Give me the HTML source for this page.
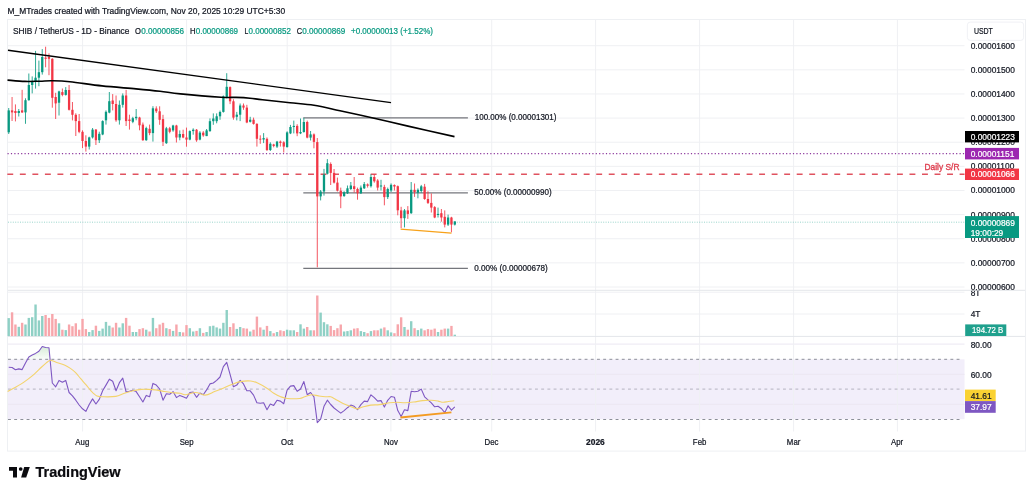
<!DOCTYPE html>
<html><head><meta charset="utf-8"><title>SHIB / TetherUS chart</title>
<style>html,body{margin:0;padding:0;background:#fff;width:1033px;height:494px;overflow:hidden}body{position:relative;font-family:"Liberation Sans", sans-serif}</style>
</head><body>
<svg width="1033" height="494" viewBox="0 0 1033 494" font-family='"Liberation Sans", sans-serif' style="position:absolute;left:0;top:0;will-change:transform"><text x="7.5" y="13.9" font-size="8.3" fill="#131722" stroke="#131722" stroke-width="0.22" textLength="277.6" lengthAdjust="spacingAndGlyphs">M_MTrades created with TradingView.com, Nov 20, 2025 10:29 UTC+5:30</text><rect x="8" y="359.3" width="956.5" height="59.9" fill="#f2eefa"/><line x1="8" x2="964.5" y1="45.7" y2="45.7" stroke="#eff0f3" stroke-width="1"/><line x1="8" x2="964.5" y1="69.83" y2="69.83" stroke="#eff0f3" stroke-width="1"/><line x1="8" x2="964.5" y1="93.96" y2="93.96" stroke="#eff0f3" stroke-width="1"/><line x1="8" x2="964.5" y1="118.09" y2="118.09" stroke="#eff0f3" stroke-width="1"/><line x1="8" x2="964.5" y1="142.22" y2="142.22" stroke="#eff0f3" stroke-width="1"/><line x1="8" x2="964.5" y1="166.35" y2="166.35" stroke="#eff0f3" stroke-width="1"/><line x1="8" x2="964.5" y1="190.48" y2="190.48" stroke="#eff0f3" stroke-width="1"/><line x1="8" x2="964.5" y1="214.61" y2="214.61" stroke="#eff0f3" stroke-width="1"/><line x1="8" x2="964.5" y1="238.74" y2="238.74" stroke="#eff0f3" stroke-width="1"/><line x1="8" x2="964.5" y1="262.87" y2="262.87" stroke="#eff0f3" stroke-width="1"/><line x1="8" x2="964.5" y1="287.0" y2="287.0" stroke="#eff0f3" stroke-width="1"/><line x1="8" x2="964.5" y1="292.2" y2="292.2" stroke="#eff0f3" stroke-width="1"/><line x1="8" x2="964.5" y1="314" y2="314" stroke="#eff0f3" stroke-width="1"/><line x1="8" x2="964.5" y1="344.1" y2="344.1" stroke="#ebe7f2" stroke-width="1"/><line x1="8" x2="964.5" y1="374.3" y2="374.3" stroke="#ebe7f2" stroke-width="1"/><line x1="8" x2="964.5" y1="404.3" y2="404.3" stroke="#ebe7f2" stroke-width="1"/><line x1="82.6" x2="82.6" y1="20" y2="431.5" stroke="#eff0f3" stroke-width="1"/><line x1="186.6" x2="186.6" y1="20" y2="431.5" stroke="#eff0f3" stroke-width="1"/><line x1="287.2" x2="287.2" y1="20" y2="431.5" stroke="#eff0f3" stroke-width="1"/><line x1="390.9" x2="390.9" y1="20" y2="431.5" stroke="#eff0f3" stroke-width="1"/><line x1="491.7" x2="491.7" y1="20" y2="431.5" stroke="#eff0f3" stroke-width="1"/><line x1="595.6" x2="595.6" y1="20" y2="431.5" stroke="#eff0f3" stroke-width="1"/><line x1="699.6" x2="699.6" y1="20" y2="431.5" stroke="#eff0f3" stroke-width="1"/><line x1="793.6" x2="793.6" y1="20" y2="431.5" stroke="#eff0f3" stroke-width="1"/><line x1="897.4" x2="897.4" y1="20" y2="431.5" stroke="#eff0f3" stroke-width="1"/><line x1="8" x2="1025" y1="290.3" y2="290.3" stroke="#e4e6ea" stroke-width="1"/><line x1="8" x2="1025" y1="336.4" y2="336.4" stroke="#e4e6ea" stroke-width="1"/><rect x="7.5" y="19.5" width="1018" height="431.6" fill="none" stroke="#eef0f3" stroke-width="1"/><line x1="8" x2="962.8" y1="359.3" y2="359.3" stroke="#8c8f99" stroke-width="1" stroke-dasharray="2.9 3.3"/><line x1="8" x2="962.8" y1="389.1" y2="389.1" stroke="#b4b3c0" stroke-width="1" stroke-dasharray="2.9 3.3"/><line x1="8" x2="962.8" y1="419.5" y2="419.5" stroke="#8c8f99" stroke-width="1" stroke-dasharray="2.9 3.3"/><line x1="7.5" x2="964.5" y1="153.6" y2="153.6" stroke="#8e3a9e" stroke-width="1.2" stroke-dasharray="1.2 2.2"/><line x1="7.32" x2="964.5" y1="174.2" y2="174.2" stroke="#e0525f" stroke-width="1.6" stroke-dasharray="5.9 6.63"/><line x1="8" x2="964.5" y1="222.2" y2="222.2" stroke="#089981" stroke-width="0.9" stroke-dasharray="1 1.4" opacity="0.45"/><text x="924.5" y="169.6" font-size="8.6" fill="#df3f4f" stroke="#df3f4f" stroke-width="0.35" textLength="35.0" lengthAdjust="spacingAndGlyphs">Daily S/R</text><line x1="303.3" x2="467.9" y1="117.8" y2="117.8" stroke="#74767c" stroke-width="1.15"/><line x1="303.3" x2="467.9" y1="192.9" y2="192.9" stroke="#74767c" stroke-width="1.15"/><line x1="303.3" x2="467.9" y1="268.3" y2="268.3" stroke="#74767c" stroke-width="1.15"/><text x="474.7" y="120.1" font-size="8.3" fill="#131722" stroke="#131722" stroke-width="0.22" textLength="81.8" lengthAdjust="spacingAndGlyphs">100.00% (0.00001301)</text><text x="474.2" y="194.9" font-size="8.3" fill="#131722" stroke="#131722" stroke-width="0.22" textLength="77.4" lengthAdjust="spacingAndGlyphs">50.00% (0.00000990)</text><text x="474.2" y="270.5" font-size="8.3" fill="#131722" stroke="#131722" stroke-width="0.22" textLength="73.6" lengthAdjust="spacingAndGlyphs">0.00% (0.00000678)</text><line x1="8.72" x2="8.72" y1="108.0" y2="134.0" stroke="#089981" stroke-width="0.85"/><rect x="7.57" y="110.4" width="2.3" height="21.90" fill="#089981"/><line x1="12.07" x2="12.07" y1="97.0" y2="121.0" stroke="#f23645" stroke-width="0.85"/><rect x="10.92" y="110.4" width="2.3" height="2.00" fill="#f23645"/><line x1="15.43" x2="15.43" y1="104.4" y2="121.4" stroke="#f23645" stroke-width="0.85"/><rect x="14.28" y="111.0" width="2.3" height="2.00" fill="#f23645"/><line x1="18.78" x2="18.78" y1="109.0" y2="116.5" stroke="#089981" stroke-width="0.85"/><rect x="17.63" y="111.0" width="2.3" height="2.00" fill="#089981"/><line x1="22.13" x2="22.13" y1="89.8" y2="113.0" stroke="#f23645" stroke-width="0.85"/><rect x="20.98" y="110.4" width="2.3" height="2.00" fill="#f23645"/><line x1="25.49" x2="25.49" y1="98.3" y2="123.8" stroke="#089981" stroke-width="0.85"/><rect x="24.34" y="100.2" width="2.3" height="12.20" fill="#089981"/><line x1="28.84" x2="28.84" y1="73.5" y2="100.7" stroke="#089981" stroke-width="0.85"/><rect x="27.69" y="85.0" width="2.3" height="15.20" fill="#089981"/><line x1="32.20" x2="32.20" y1="76.4" y2="93.4" stroke="#089981" stroke-width="0.85"/><rect x="31.05" y="81.9" width="2.3" height="3.10" fill="#089981"/><line x1="35.55" x2="35.55" y1="50.9" y2="88.6" stroke="#089981" stroke-width="0.85"/><rect x="34.40" y="77.7" width="2.3" height="4.20" fill="#089981"/><line x1="38.90" x2="38.90" y1="60.6" y2="86.2" stroke="#089981" stroke-width="0.85"/><rect x="37.75" y="72.2" width="2.3" height="5.50" fill="#089981"/><line x1="42.26" x2="42.26" y1="49.1" y2="74.6" stroke="#089981" stroke-width="0.85"/><rect x="41.11" y="57.0" width="2.3" height="15.20" fill="#089981"/><line x1="45.61" x2="45.61" y1="46.7" y2="67.3" stroke="#f23645" stroke-width="0.85"/><rect x="44.46" y="57.6" width="2.3" height="1.20" fill="#f23645"/><line x1="48.97" x2="48.97" y1="53.4" y2="75.2" stroke="#f23645" stroke-width="0.85"/><rect x="47.82" y="57.0" width="2.3" height="1.80" fill="#f23645"/><line x1="52.32" x2="52.32" y1="58.2" y2="107.7" stroke="#f23645" stroke-width="0.85"/><rect x="51.17" y="58.8" width="2.3" height="39.00" fill="#f23645"/><line x1="55.67" x2="55.67" y1="92.8" y2="119.0" stroke="#f23645" stroke-width="0.85"/><rect x="54.52" y="97.0" width="2.3" height="6.40" fill="#f23645"/><line x1="59.03" x2="59.03" y1="90.7" y2="115.5" stroke="#089981" stroke-width="0.85"/><rect x="57.88" y="91.4" width="2.3" height="11.30" fill="#089981"/><line x1="62.38" x2="62.38" y1="88.5" y2="96.3" stroke="#f23645" stroke-width="0.85"/><rect x="61.23" y="92.1" width="2.3" height="2.80" fill="#f23645"/><line x1="65.74" x2="65.74" y1="87.1" y2="95.6" stroke="#089981" stroke-width="0.85"/><rect x="64.59" y="90.0" width="2.3" height="4.90" fill="#089981"/><line x1="69.09" x2="69.09" y1="85.0" y2="110.5" stroke="#f23645" stroke-width="0.85"/><rect x="67.94" y="90.0" width="2.3" height="19.80" fill="#f23645"/><line x1="72.44" x2="72.44" y1="102.0" y2="120.4" stroke="#f23645" stroke-width="0.85"/><rect x="71.29" y="109.8" width="2.3" height="5.00" fill="#f23645"/><line x1="75.80" x2="75.80" y1="113.3" y2="136.0" stroke="#f23645" stroke-width="0.85"/><rect x="74.65" y="114.8" width="2.3" height="6.30" fill="#f23645"/><line x1="79.15" x2="79.15" y1="114.0" y2="133.2" stroke="#f23645" stroke-width="0.85"/><rect x="78.00" y="121.1" width="2.3" height="10.70" fill="#f23645"/><line x1="82.51" x2="82.51" y1="130.3" y2="148.1" stroke="#f23645" stroke-width="0.85"/><rect x="81.36" y="131.8" width="2.3" height="9.20" fill="#f23645"/><line x1="85.86" x2="85.86" y1="135.3" y2="151.6" stroke="#f23645" stroke-width="0.85"/><rect x="84.71" y="141.0" width="2.3" height="5.60" fill="#f23645"/><line x1="89.21" x2="89.21" y1="136.7" y2="149.5" stroke="#089981" stroke-width="0.85"/><rect x="88.06" y="137.4" width="2.3" height="9.20" fill="#089981"/><line x1="92.57" x2="92.57" y1="128.0" y2="138.5" stroke="#089981" stroke-width="0.85"/><rect x="91.42" y="129.6" width="2.3" height="7.80" fill="#089981"/><line x1="95.92" x2="95.92" y1="129.0" y2="145.0" stroke="#f23645" stroke-width="0.85"/><rect x="94.77" y="129.6" width="2.3" height="10.60" fill="#f23645"/><line x1="99.28" x2="99.28" y1="131.7" y2="143.0" stroke="#089981" stroke-width="0.85"/><rect x="98.13" y="133.8" width="2.3" height="6.40" fill="#089981"/><line x1="102.63" x2="102.63" y1="120.3" y2="135.2" stroke="#089981" stroke-width="0.85"/><rect x="101.48" y="121.1" width="2.3" height="13.40" fill="#089981"/><line x1="105.98" x2="105.98" y1="110.4" y2="124.6" stroke="#089981" stroke-width="0.85"/><rect x="104.83" y="111.8" width="2.3" height="8.50" fill="#089981"/><line x1="109.34" x2="109.34" y1="92.0" y2="113.3" stroke="#089981" stroke-width="0.85"/><rect x="108.19" y="101.2" width="2.3" height="11.40" fill="#089981"/><line x1="112.69" x2="112.69" y1="94.1" y2="110.4" stroke="#f23645" stroke-width="0.85"/><rect x="111.54" y="100.5" width="2.3" height="3.50" fill="#f23645"/><line x1="116.05" x2="116.05" y1="95.5" y2="121.8" stroke="#f23645" stroke-width="0.85"/><rect x="114.90" y="104.0" width="2.3" height="16.30" fill="#f23645"/><line x1="119.40" x2="119.40" y1="100.5" y2="124.6" stroke="#089981" stroke-width="0.85"/><rect x="118.25" y="104.8" width="2.3" height="15.50" fill="#089981"/><line x1="122.75" x2="122.75" y1="93.4" y2="107.6" stroke="#089981" stroke-width="0.85"/><rect x="121.60" y="95.5" width="2.3" height="9.30" fill="#089981"/><line x1="126.11" x2="126.11" y1="89.9" y2="126.0" stroke="#f23645" stroke-width="0.85"/><rect x="124.96" y="95.5" width="2.3" height="25.60" fill="#f23645"/><line x1="129.46" x2="129.46" y1="114.7" y2="129.6" stroke="#f23645" stroke-width="0.85"/><rect x="128.31" y="119.5" width="2.3" height="1.50" fill="#f23645"/><line x1="132.82" x2="132.82" y1="116.8" y2="123.2" stroke="#089981" stroke-width="0.85"/><rect x="131.67" y="118.2" width="2.3" height="3.60" fill="#089981"/><line x1="136.17" x2="136.17" y1="109.0" y2="120.3" stroke="#089981" stroke-width="0.85"/><rect x="135.02" y="116.8" width="2.3" height="1.40" fill="#089981"/><line x1="139.52" x2="139.52" y1="116.8" y2="130.3" stroke="#f23645" stroke-width="0.85"/><rect x="138.37" y="117.5" width="2.3" height="7.80" fill="#f23645"/><line x1="142.88" x2="142.88" y1="122.5" y2="140.9" stroke="#f23645" stroke-width="0.85"/><rect x="141.73" y="124.6" width="2.3" height="15.60" fill="#f23645"/><line x1="146.23" x2="146.23" y1="126.7" y2="140.9" stroke="#089981" stroke-width="0.85"/><rect x="145.08" y="128.1" width="2.3" height="12.10" fill="#089981"/><line x1="149.59" x2="149.59" y1="124.6" y2="135.2" stroke="#f23645" stroke-width="0.85"/><rect x="148.44" y="128.8" width="2.3" height="4.30" fill="#f23645"/><line x1="152.94" x2="152.94" y1="106.2" y2="141.6" stroke="#089981" stroke-width="0.85"/><rect x="151.79" y="108.3" width="2.3" height="24.80" fill="#089981"/><line x1="156.29" x2="156.29" y1="106.3" y2="113.0" stroke="#f23645" stroke-width="0.85"/><rect x="155.14" y="108.5" width="2.3" height="2.80" fill="#f23645"/><line x1="159.65" x2="159.65" y1="106.3" y2="124.8" stroke="#f23645" stroke-width="0.85"/><rect x="158.50" y="111.3" width="2.3" height="8.50" fill="#f23645"/><line x1="163.00" x2="163.00" y1="114.8" y2="146.0" stroke="#f23645" stroke-width="0.85"/><rect x="161.85" y="119.1" width="2.3" height="22.70" fill="#f23645"/><line x1="166.36" x2="166.36" y1="126.9" y2="143.9" stroke="#089981" stroke-width="0.85"/><rect x="165.21" y="128.3" width="2.3" height="14.90" fill="#089981"/><line x1="169.71" x2="169.71" y1="126.9" y2="133.3" stroke="#f23645" stroke-width="0.85"/><rect x="168.56" y="128.3" width="2.3" height="3.50" fill="#f23645"/><line x1="173.06" x2="173.06" y1="124.8" y2="131.8" stroke="#089981" stroke-width="0.85"/><rect x="171.91" y="125.5" width="2.3" height="4.90" fill="#089981"/><line x1="176.42" x2="176.42" y1="124.8" y2="142.5" stroke="#f23645" stroke-width="0.85"/><rect x="175.27" y="125.5" width="2.3" height="12.00" fill="#f23645"/><line x1="179.77" x2="179.77" y1="130.4" y2="140.3" stroke="#089981" stroke-width="0.85"/><rect x="178.62" y="134.0" width="2.3" height="3.50" fill="#089981"/><line x1="183.13" x2="183.13" y1="129.7" y2="138.2" stroke="#f23645" stroke-width="0.85"/><rect x="181.98" y="134.0" width="2.3" height="3.50" fill="#f23645"/><line x1="186.48" x2="186.48" y1="127.6" y2="146.7" stroke="#f23645" stroke-width="0.85"/><rect x="185.33" y="137.5" width="2.3" height="2.10" fill="#f23645"/><line x1="189.83" x2="189.83" y1="130.4" y2="140.3" stroke="#089981" stroke-width="0.85"/><rect x="188.68" y="131.1" width="2.3" height="8.50" fill="#089981"/><line x1="193.19" x2="193.19" y1="128.3" y2="134.7" stroke="#089981" stroke-width="0.85"/><rect x="192.04" y="129.7" width="2.3" height="1.40" fill="#089981"/><line x1="196.54" x2="196.54" y1="129.0" y2="141.8" stroke="#f23645" stroke-width="0.85"/><rect x="195.39" y="129.7" width="2.3" height="10.60" fill="#f23645"/><line x1="199.90" x2="199.90" y1="131.1" y2="140.3" stroke="#089981" stroke-width="0.85"/><rect x="198.75" y="132.6" width="2.3" height="7.00" fill="#089981"/><line x1="203.25" x2="203.25" y1="131.1" y2="136.8" stroke="#f23645" stroke-width="0.85"/><rect x="202.10" y="132.6" width="2.3" height="2.80" fill="#f23645"/><line x1="206.60" x2="206.60" y1="129.0" y2="136.1" stroke="#089981" stroke-width="0.85"/><rect x="205.45" y="130.4" width="2.3" height="5.70" fill="#089981"/><line x1="209.96" x2="209.96" y1="118.4" y2="131.8" stroke="#089981" stroke-width="0.85"/><rect x="208.81" y="121.2" width="2.3" height="9.90" fill="#089981"/><line x1="213.31" x2="213.31" y1="113.4" y2="124.8" stroke="#089981" stroke-width="0.85"/><rect x="212.16" y="118.5" width="2.3" height="2.70" fill="#089981"/><line x1="216.67" x2="216.67" y1="113.4" y2="123.3" stroke="#089981" stroke-width="0.85"/><rect x="215.52" y="116.3" width="2.3" height="4.90" fill="#089981"/><line x1="220.02" x2="220.02" y1="110.6" y2="119.8" stroke="#089981" stroke-width="0.85"/><rect x="218.87" y="112.0" width="2.3" height="4.30" fill="#089981"/><line x1="223.37" x2="223.37" y1="95.5" y2="112.6" stroke="#089981" stroke-width="0.85"/><rect x="222.22" y="96.3" width="2.3" height="15.60" fill="#089981"/><line x1="226.73" x2="226.73" y1="73.2" y2="98.4" stroke="#089981" stroke-width="0.85"/><rect x="225.58" y="86.8" width="2.3" height="10.60" fill="#089981"/><line x1="230.08" x2="230.08" y1="86.4" y2="104.1" stroke="#f23645" stroke-width="0.85"/><rect x="228.93" y="87.1" width="2.3" height="14.20" fill="#f23645"/><line x1="233.44" x2="233.44" y1="99.2" y2="119.7" stroke="#f23645" stroke-width="0.85"/><rect x="232.29" y="101.3" width="2.3" height="16.30" fill="#f23645"/><line x1="236.79" x2="236.79" y1="111.9" y2="120.4" stroke="#089981" stroke-width="0.85"/><rect x="235.64" y="114.7" width="2.3" height="2.10" fill="#089981"/><line x1="240.14" x2="240.14" y1="103.5" y2="121.1" stroke="#089981" stroke-width="0.85"/><rect x="238.99" y="105.5" width="2.3" height="9.20" fill="#089981"/><line x1="243.50" x2="243.50" y1="103.5" y2="109.8" stroke="#f23645" stroke-width="0.85"/><rect x="242.35" y="105.5" width="2.3" height="2.10" fill="#f23645"/><line x1="246.85" x2="246.85" y1="104.8" y2="123.2" stroke="#f23645" stroke-width="0.85"/><rect x="245.70" y="107.6" width="2.3" height="14.90" fill="#f23645"/><line x1="250.21" x2="250.21" y1="116.8" y2="122.5" stroke="#089981" stroke-width="0.85"/><rect x="249.06" y="119.7" width="2.3" height="2.10" fill="#089981"/><line x1="253.56" x2="253.56" y1="117.6" y2="124.6" stroke="#f23645" stroke-width="0.85"/><rect x="252.41" y="119.7" width="2.3" height="4.20" fill="#f23645"/><line x1="256.91" x2="256.91" y1="123.2" y2="146.6" stroke="#f23645" stroke-width="0.85"/><rect x="255.76" y="123.9" width="2.3" height="14.90" fill="#f23645"/><line x1="260.27" x2="260.27" y1="135.3" y2="143.8" stroke="#f23645" stroke-width="0.85"/><rect x="259.12" y="138.75" width="2.3" height="0.80" fill="#f23645"/><line x1="263.62" x2="263.62" y1="133.1" y2="143.1" stroke="#089981" stroke-width="0.85"/><rect x="262.47" y="138.1" width="2.3" height="1.40" fill="#089981"/><line x1="266.98" x2="266.98" y1="137.4" y2="151.0" stroke="#f23645" stroke-width="0.85"/><rect x="265.83" y="138.8" width="2.3" height="11.20" fill="#f23645"/><line x1="270.33" x2="270.33" y1="142.3" y2="151.0" stroke="#089981" stroke-width="0.85"/><rect x="269.18" y="143.8" width="2.3" height="6.20" fill="#089981"/><line x1="273.68" x2="273.68" y1="143.8" y2="147.3" stroke="#f23645" stroke-width="0.85"/><rect x="272.53" y="144.5" width="2.3" height="1.40" fill="#f23645"/><line x1="277.04" x2="277.04" y1="140.9" y2="148.0" stroke="#089981" stroke-width="0.85"/><rect x="275.89" y="141.6" width="2.3" height="5.00" fill="#089981"/><line x1="280.39" x2="280.39" y1="140.5" y2="146.6" stroke="#f23645" stroke-width="0.85"/><rect x="279.24" y="141.6" width="2.3" height="1.30" fill="#f23645"/><line x1="283.75" x2="283.75" y1="141.2" y2="152.5" stroke="#f23645" stroke-width="0.85"/><rect x="282.60" y="142.3" width="2.3" height="4.30" fill="#f23645"/><line x1="287.10" x2="287.10" y1="131.3" y2="147.6" stroke="#089981" stroke-width="0.85"/><rect x="285.95" y="132.4" width="2.3" height="14.70" fill="#089981"/><line x1="290.45" x2="290.45" y1="124.9" y2="134.1" stroke="#089981" stroke-width="0.85"/><rect x="289.30" y="127.0" width="2.3" height="6.40" fill="#089981"/><line x1="293.81" x2="293.81" y1="120.6" y2="133.4" stroke="#089981" stroke-width="0.85"/><rect x="292.66" y="125.9" width="2.3" height="1.10" fill="#089981"/><line x1="297.16" x2="297.16" y1="124.2" y2="136.2" stroke="#f23645" stroke-width="0.85"/><rect x="296.01" y="125.9" width="2.3" height="7.50" fill="#f23645"/><line x1="300.52" x2="300.52" y1="118.5" y2="134.1" stroke="#089981" stroke-width="0.85"/><rect x="299.37" y="132.0" width="2.3" height="1.40" fill="#089981"/><line x1="303.87" x2="303.87" y1="117.8" y2="132.7" stroke="#089981" stroke-width="0.85"/><rect x="302.72" y="122.0" width="2.3" height="10.00" fill="#089981"/><line x1="307.22" x2="307.22" y1="120.6" y2="138.3" stroke="#f23645" stroke-width="0.85"/><rect x="306.07" y="122.0" width="2.3" height="15.60" fill="#f23645"/><line x1="310.58" x2="310.58" y1="131.0" y2="140.5" stroke="#089981" stroke-width="0.85"/><rect x="309.43" y="134.4" width="2.3" height="3.20" fill="#089981"/><line x1="313.93" x2="313.93" y1="133.4" y2="148.3" stroke="#f23645" stroke-width="0.85"/><rect x="312.78" y="134.4" width="2.3" height="7.50" fill="#f23645"/><line x1="317.29" x2="317.29" y1="138.0" y2="267.3" stroke="#f23645" stroke-width="0.85"/><rect x="316.14" y="142.1" width="2.3" height="54.30" fill="#f23645"/><line x1="320.64" x2="320.64" y1="190.0" y2="200.4" stroke="#089981" stroke-width="0.85"/><rect x="319.49" y="191.5" width="2.3" height="4.90" fill="#089981"/><line x1="323.99" x2="323.99" y1="168.9" y2="195.6" stroke="#089981" stroke-width="0.85"/><rect x="322.84" y="174.5" width="2.3" height="17.00" fill="#089981"/><line x1="327.35" x2="327.35" y1="159.1" y2="174.5" stroke="#089981" stroke-width="0.85"/><rect x="326.20" y="163.2" width="2.3" height="10.50" fill="#089981"/><line x1="330.70" x2="330.70" y1="162.4" y2="185.0" stroke="#f23645" stroke-width="0.85"/><rect x="329.55" y="164.0" width="2.3" height="8.90" fill="#f23645"/><line x1="334.06" x2="334.06" y1="169.0" y2="183.5" stroke="#f23645" stroke-width="0.85"/><rect x="332.91" y="172.9" width="2.3" height="9.70" fill="#f23645"/><line x1="337.41" x2="337.41" y1="177.6" y2="191.5" stroke="#f23645" stroke-width="0.85"/><rect x="336.26" y="182.6" width="2.3" height="8.10" fill="#f23645"/><line x1="340.76" x2="340.76" y1="187.6" y2="208.2" stroke="#f23645" stroke-width="0.85"/><rect x="339.61" y="190.7" width="2.3" height="5.70" fill="#f23645"/><line x1="344.12" x2="344.12" y1="191.2" y2="196.8" stroke="#089981" stroke-width="0.85"/><rect x="342.97" y="192.3" width="2.3" height="3.80" fill="#089981"/><line x1="347.47" x2="347.47" y1="185.5" y2="194.0" stroke="#089981" stroke-width="0.85"/><rect x="346.32" y="188.3" width="2.3" height="5.00" fill="#089981"/><line x1="350.83" x2="350.83" y1="182.0" y2="190.0" stroke="#089981" stroke-width="0.85"/><rect x="349.68" y="185.5" width="2.3" height="3.50" fill="#089981"/><line x1="354.18" x2="354.18" y1="177.0" y2="192.6" stroke="#f23645" stroke-width="0.85"/><rect x="353.03" y="186.2" width="2.3" height="2.80" fill="#f23645"/><line x1="357.53" x2="357.53" y1="187.6" y2="199.7" stroke="#f23645" stroke-width="0.85"/><rect x="356.38" y="189.0" width="2.3" height="4.30" fill="#f23645"/><line x1="360.89" x2="360.89" y1="185.5" y2="194.0" stroke="#089981" stroke-width="0.85"/><rect x="359.74" y="187.6" width="2.3" height="5.70" fill="#089981"/><line x1="364.24" x2="364.24" y1="182.0" y2="189.0" stroke="#089981" stroke-width="0.85"/><rect x="363.09" y="184.1" width="2.3" height="4.20" fill="#089981"/><line x1="367.60" x2="367.60" y1="183.4" y2="187.6" stroke="#f23645" stroke-width="0.85"/><rect x="366.45" y="184.4" width="2.3" height="1.40" fill="#f23645"/><line x1="370.95" x2="370.95" y1="174.2" y2="187.6" stroke="#089981" stroke-width="0.85"/><rect x="369.80" y="177.0" width="2.3" height="9.20" fill="#089981"/><line x1="374.30" x2="374.30" y1="174.2" y2="182.7" stroke="#f23645" stroke-width="0.85"/><rect x="373.15" y="177.0" width="2.3" height="4.30" fill="#f23645"/><line x1="377.66" x2="377.66" y1="179.1" y2="190.5" stroke="#f23645" stroke-width="0.85"/><rect x="376.51" y="180.5" width="2.3" height="7.10" fill="#f23645"/><line x1="381.01" x2="381.01" y1="179.8" y2="190.5" stroke="#089981" stroke-width="0.85"/><rect x="379.86" y="185.5" width="2.3" height="1.00" fill="#089981"/><line x1="384.37" x2="384.37" y1="184.8" y2="205.3" stroke="#f23645" stroke-width="0.85"/><rect x="383.22" y="186.9" width="2.3" height="10.20" fill="#f23645"/><line x1="387.72" x2="387.72" y1="187.6" y2="199.0" stroke="#089981" stroke-width="0.85"/><rect x="386.57" y="189.0" width="2.3" height="8.10" fill="#089981"/><line x1="391.07" x2="391.07" y1="183.4" y2="192.0" stroke="#089981" stroke-width="0.85"/><rect x="389.92" y="184.8" width="2.3" height="5.70" fill="#089981"/><line x1="394.43" x2="394.43" y1="184.4" y2="190.5" stroke="#f23645" stroke-width="0.85"/><rect x="393.28" y="185.0" width="2.3" height="1.50" fill="#f23645"/><line x1="397.78" x2="397.78" y1="185.5" y2="215.3" stroke="#f23645" stroke-width="0.85"/><rect x="396.63" y="186.2" width="2.3" height="24.10" fill="#f23645"/><line x1="401.14" x2="401.14" y1="206.8" y2="228.1" stroke="#f23645" stroke-width="0.85"/><rect x="399.99" y="210.4" width="2.3" height="7.80" fill="#f23645"/><line x1="404.49" x2="404.49" y1="209.0" y2="227.4" stroke="#089981" stroke-width="0.85"/><rect x="403.34" y="210.4" width="2.3" height="7.80" fill="#089981"/><line x1="407.84" x2="407.84" y1="206.1" y2="218.9" stroke="#f23645" stroke-width="0.85"/><rect x="406.69" y="210.4" width="2.3" height="3.50" fill="#f23645"/><line x1="411.20" x2="411.20" y1="182.0" y2="213.9" stroke="#089981" stroke-width="0.85"/><rect x="410.05" y="189.8" width="2.3" height="23.40" fill="#089981"/><line x1="414.55" x2="414.55" y1="183.5" y2="196.9" stroke="#f23645" stroke-width="0.85"/><rect x="413.40" y="189.8" width="2.3" height="2.20" fill="#f23645"/><line x1="417.91" x2="417.91" y1="188.4" y2="198.3" stroke="#089981" stroke-width="0.85"/><rect x="416.76" y="189.8" width="2.3" height="2.90" fill="#089981"/><line x1="421.26" x2="421.26" y1="184.9" y2="192.7" stroke="#089981" stroke-width="0.85"/><rect x="420.11" y="186.3" width="2.3" height="4.70" fill="#089981"/><line x1="424.61" x2="424.61" y1="183.9" y2="199.8" stroke="#f23645" stroke-width="0.85"/><rect x="423.46" y="186.7" width="2.3" height="12.30" fill="#f23645"/><line x1="427.97" x2="427.97" y1="191.3" y2="204.0" stroke="#f23645" stroke-width="0.85"/><rect x="426.82" y="199.0" width="2.3" height="3.90" fill="#f23645"/><line x1="431.32" x2="431.32" y1="193.4" y2="212.5" stroke="#f23645" stroke-width="0.85"/><rect x="430.17" y="202.9" width="2.3" height="4.70" fill="#f23645"/><line x1="434.68" x2="434.68" y1="206.1" y2="218.2" stroke="#f23645" stroke-width="0.85"/><rect x="433.53" y="207.1" width="2.3" height="10.40" fill="#f23645"/><line x1="438.03" x2="438.03" y1="207.6" y2="217.5" stroke="#089981" stroke-width="0.85"/><rect x="436.88" y="213.9" width="2.3" height="1.10" fill="#089981"/><line x1="441.38" x2="441.38" y1="209.0" y2="221.7" stroke="#f23645" stroke-width="0.85"/><rect x="440.23" y="213.2" width="2.3" height="4.30" fill="#f23645"/><line x1="444.74" x2="444.74" y1="210.4" y2="227.4" stroke="#f23645" stroke-width="0.85"/><rect x="443.59" y="216.8" width="2.3" height="7.80" fill="#f23645"/><line x1="448.09" x2="448.09" y1="214.6" y2="226.0" stroke="#089981" stroke-width="0.85"/><rect x="446.94" y="217.5" width="2.3" height="7.10" fill="#089981"/><line x1="451.45" x2="451.45" y1="216.8" y2="232.3" stroke="#f23645" stroke-width="0.85"/><rect x="450.30" y="217.5" width="2.3" height="7.10" fill="#f23645"/><line x1="454.80" x2="454.80" y1="221.4" y2="225.5" stroke="#089981" stroke-width="0.85"/><rect x="453.65" y="221.4" width="2.3" height="3.20" fill="#089981"/><rect x="7.52" y="318.1" width="2.4" height="18.00" fill="#8fd0c5"/><rect x="10.87" y="312.3" width="2.4" height="23.80" fill="#f7a6ab"/><rect x="14.23" y="324.5" width="2.4" height="11.60" fill="#f7a6ab"/><rect x="17.58" y="326.8" width="2.4" height="9.30" fill="#8fd0c5"/><rect x="20.93" y="322.8" width="2.4" height="13.30" fill="#f7a6ab"/><rect x="24.29" y="324.5" width="2.4" height="11.60" fill="#8fd0c5"/><rect x="27.64" y="317.9" width="2.4" height="18.20" fill="#8fd0c5"/><rect x="31.00" y="317.2" width="2.4" height="18.90" fill="#8fd0c5"/><rect x="34.35" y="304.5" width="2.4" height="31.60" fill="#8fd0c5"/><rect x="37.70" y="320.4" width="2.4" height="15.70" fill="#8fd0c5"/><rect x="41.06" y="316" width="2.4" height="20.10" fill="#8fd0c5"/><rect x="44.41" y="315" width="2.4" height="21.10" fill="#f7a6ab"/><rect x="47.77" y="317.9" width="2.4" height="18.20" fill="#f7a6ab"/><rect x="51.12" y="314" width="2.4" height="22.10" fill="#f7a6ab"/><rect x="54.47" y="318.9" width="2.4" height="17.20" fill="#f7a6ab"/><rect x="57.83" y="323.3" width="2.4" height="12.80" fill="#8fd0c5"/><rect x="61.18" y="329.7" width="2.4" height="6.40" fill="#f7a6ab"/><rect x="64.54" y="330.1" width="2.4" height="6.00" fill="#8fd0c5"/><rect x="67.89" y="324.5" width="2.4" height="11.60" fill="#f7a6ab"/><rect x="71.24" y="326.2" width="2.4" height="9.90" fill="#f7a6ab"/><rect x="74.60" y="323.3" width="2.4" height="12.80" fill="#f7a6ab"/><rect x="77.95" y="329.7" width="2.4" height="6.40" fill="#f7a6ab"/><rect x="81.31" y="318.9" width="2.4" height="17.20" fill="#f7a6ab"/><rect x="84.66" y="329.1" width="2.4" height="7.00" fill="#f7a6ab"/><rect x="88.01" y="332" width="2.4" height="4.10" fill="#8fd0c5"/><rect x="91.37" y="330.1" width="2.4" height="6.00" fill="#8fd0c5"/><rect x="94.72" y="325.7" width="2.4" height="10.40" fill="#f7a6ab"/><rect x="98.08" y="330.9" width="2.4" height="5.20" fill="#8fd0c5"/><rect x="101.43" y="328.6" width="2.4" height="7.50" fill="#8fd0c5"/><rect x="104.78" y="321.9" width="2.4" height="14.20" fill="#8fd0c5"/><rect x="108.14" y="325.7" width="2.4" height="10.40" fill="#8fd0c5"/><rect x="111.49" y="327.5" width="2.4" height="8.60" fill="#f7a6ab"/><rect x="114.85" y="322.8" width="2.4" height="13.30" fill="#f7a6ab"/><rect x="118.20" y="327.5" width="2.4" height="8.60" fill="#8fd0c5"/><rect x="121.55" y="323.3" width="2.4" height="12.80" fill="#8fd0c5"/><rect x="124.91" y="317.9" width="2.4" height="18.20" fill="#f7a6ab"/><rect x="128.26" y="325.7" width="2.4" height="10.40" fill="#f7a6ab"/><rect x="131.62" y="332" width="2.4" height="4.10" fill="#8fd0c5"/><rect x="134.97" y="332" width="2.4" height="4.10" fill="#8fd0c5"/><rect x="138.32" y="329.1" width="2.4" height="7.00" fill="#f7a6ab"/><rect x="141.68" y="328.2" width="2.4" height="7.90" fill="#f7a6ab"/><rect x="145.03" y="329.7" width="2.4" height="6.40" fill="#8fd0c5"/><rect x="148.39" y="331.5" width="2.4" height="4.60" fill="#f7a6ab"/><rect x="151.74" y="317.9" width="2.4" height="18.20" fill="#8fd0c5"/><rect x="155.09" y="328.2" width="2.4" height="7.90" fill="#f7a6ab"/><rect x="158.45" y="324.5" width="2.4" height="11.60" fill="#f7a6ab"/><rect x="161.80" y="322.8" width="2.4" height="13.30" fill="#f7a6ab"/><rect x="165.16" y="328.2" width="2.4" height="7.90" fill="#8fd0c5"/><rect x="168.51" y="329.1" width="2.4" height="7.00" fill="#f7a6ab"/><rect x="171.86" y="330.9" width="2.4" height="5.20" fill="#8fd0c5"/><rect x="175.22" y="324.5" width="2.4" height="11.60" fill="#f7a6ab"/><rect x="178.57" y="332" width="2.4" height="4.10" fill="#8fd0c5"/><rect x="181.93" y="332.4" width="2.4" height="3.70" fill="#f7a6ab"/><rect x="185.28" y="325.1" width="2.4" height="11.00" fill="#f7a6ab"/><rect x="188.63" y="328.2" width="2.4" height="7.90" fill="#8fd0c5"/><rect x="191.99" y="331.5" width="2.4" height="4.60" fill="#8fd0c5"/><rect x="195.34" y="330.9" width="2.4" height="5.20" fill="#f7a6ab"/><rect x="198.70" y="328.2" width="2.4" height="7.90" fill="#8fd0c5"/><rect x="202.05" y="332.9" width="2.4" height="3.20" fill="#f7a6ab"/><rect x="205.40" y="332" width="2.4" height="4.10" fill="#8fd0c5"/><rect x="208.76" y="326.2" width="2.4" height="9.90" fill="#8fd0c5"/><rect x="212.11" y="325.7" width="2.4" height="10.40" fill="#8fd0c5"/><rect x="215.47" y="327.4" width="2.4" height="8.70" fill="#8fd0c5"/><rect x="218.82" y="328.6" width="2.4" height="7.50" fill="#8fd0c5"/><rect x="222.17" y="322.8" width="2.4" height="13.30" fill="#8fd0c5"/><rect x="225.53" y="310" width="2.4" height="26.10" fill="#8fd0c5"/><rect x="228.88" y="327" width="2.4" height="9.10" fill="#f7a6ab"/><rect x="232.24" y="323.3" width="2.4" height="12.80" fill="#f7a6ab"/><rect x="235.59" y="328.9" width="2.4" height="7.20" fill="#8fd0c5"/><rect x="238.94" y="327" width="2.4" height="9.10" fill="#8fd0c5"/><rect x="242.30" y="328.2" width="2.4" height="7.90" fill="#f7a6ab"/><rect x="245.65" y="328.6" width="2.4" height="7.50" fill="#f7a6ab"/><rect x="249.01" y="331.5" width="2.4" height="4.60" fill="#8fd0c5"/><rect x="252.36" y="329.7" width="2.4" height="6.40" fill="#f7a6ab"/><rect x="255.71" y="316.6" width="2.4" height="19.50" fill="#f7a6ab"/><rect x="259.07" y="327.4" width="2.4" height="8.70" fill="#f7a6ab"/><rect x="262.42" y="329.7" width="2.4" height="6.40" fill="#8fd0c5"/><rect x="265.78" y="325.9" width="2.4" height="10.20" fill="#f7a6ab"/><rect x="269.13" y="331.1" width="2.4" height="5.00" fill="#8fd0c5"/><rect x="272.48" y="333.2" width="2.4" height="2.90" fill="#f7a6ab"/><rect x="275.84" y="332" width="2.4" height="4.10" fill="#8fd0c5"/><rect x="279.19" y="330.3" width="2.4" height="5.80" fill="#f7a6ab"/><rect x="282.55" y="331.1" width="2.4" height="5.00" fill="#f7a6ab"/><rect x="285.90" y="329.7" width="2.4" height="6.40" fill="#8fd0c5"/><rect x="289.25" y="330.3" width="2.4" height="5.80" fill="#8fd0c5"/><rect x="292.61" y="330.3" width="2.4" height="5.80" fill="#8fd0c5"/><rect x="295.96" y="332" width="2.4" height="4.10" fill="#f7a6ab"/><rect x="299.32" y="324.3" width="2.4" height="11.80" fill="#8fd0c5"/><rect x="302.67" y="328.6" width="2.4" height="7.50" fill="#8fd0c5"/><rect x="306.02" y="327" width="2.4" height="9.10" fill="#f7a6ab"/><rect x="309.38" y="330.3" width="2.4" height="5.80" fill="#8fd0c5"/><rect x="312.73" y="330.3" width="2.4" height="5.80" fill="#f7a6ab"/><rect x="316.09" y="295.5" width="2.4" height="40.60" fill="#f7a6ab"/><rect x="319.44" y="312.6" width="2.4" height="23.50" fill="#8fd0c5"/><rect x="322.79" y="322.2" width="2.4" height="13.90" fill="#8fd0c5"/><rect x="326.15" y="324.3" width="2.4" height="11.80" fill="#8fd0c5"/><rect x="329.50" y="325.9" width="2.4" height="10.20" fill="#f7a6ab"/><rect x="332.86" y="330.1" width="2.4" height="6.00" fill="#f7a6ab"/><rect x="336.21" y="328.2" width="2.4" height="7.90" fill="#f7a6ab"/><rect x="339.56" y="324.5" width="2.4" height="11.60" fill="#f7a6ab"/><rect x="342.92" y="331.5" width="2.4" height="4.60" fill="#8fd0c5"/><rect x="346.27" y="331.1" width="2.4" height="5.00" fill="#8fd0c5"/><rect x="349.63" y="330.3" width="2.4" height="5.80" fill="#8fd0c5"/><rect x="352.98" y="328.6" width="2.4" height="7.50" fill="#f7a6ab"/><rect x="356.33" y="328.2" width="2.4" height="7.90" fill="#f7a6ab"/><rect x="359.69" y="331.1" width="2.4" height="5.00" fill="#8fd0c5"/><rect x="363.04" y="332" width="2.4" height="4.10" fill="#8fd0c5"/><rect x="366.40" y="333.2" width="2.4" height="2.90" fill="#f7a6ab"/><rect x="369.75" y="331.1" width="2.4" height="5.00" fill="#8fd0c5"/><rect x="373.10" y="330.3" width="2.4" height="5.80" fill="#f7a6ab"/><rect x="376.46" y="330.3" width="2.4" height="5.80" fill="#f7a6ab"/><rect x="379.81" y="328.6" width="2.4" height="7.50" fill="#8fd0c5"/><rect x="383.17" y="327.4" width="2.4" height="8.70" fill="#f7a6ab"/><rect x="386.52" y="330.3" width="2.4" height="5.80" fill="#8fd0c5"/><rect x="389.87" y="332.4" width="2.4" height="3.70" fill="#8fd0c5"/><rect x="393.23" y="333.2" width="2.4" height="2.90" fill="#f7a6ab"/><rect x="396.58" y="324.3" width="2.4" height="11.80" fill="#f7a6ab"/><rect x="399.94" y="317.3" width="2.4" height="18.80" fill="#f7a6ab"/><rect x="403.29" y="327" width="2.4" height="9.10" fill="#8fd0c5"/><rect x="406.64" y="329.7" width="2.4" height="6.40" fill="#f7a6ab"/><rect x="410.00" y="321.2" width="2.4" height="14.90" fill="#8fd0c5"/><rect x="413.35" y="328.2" width="2.4" height="7.90" fill="#f7a6ab"/><rect x="416.71" y="330.1" width="2.4" height="6.00" fill="#8fd0c5"/><rect x="420.06" y="328.6" width="2.4" height="7.50" fill="#8fd0c5"/><rect x="423.41" y="330.3" width="2.4" height="5.80" fill="#f7a6ab"/><rect x="426.77" y="329.1" width="2.4" height="7.00" fill="#f7a6ab"/><rect x="430.12" y="329.7" width="2.4" height="6.40" fill="#f7a6ab"/><rect x="433.48" y="328.6" width="2.4" height="7.50" fill="#f7a6ab"/><rect x="436.83" y="332" width="2.4" height="4.10" fill="#8fd0c5"/><rect x="440.18" y="329.7" width="2.4" height="6.40" fill="#f7a6ab"/><rect x="443.54" y="328.6" width="2.4" height="7.50" fill="#f7a6ab"/><rect x="446.89" y="328.6" width="2.4" height="7.50" fill="#8fd0c5"/><rect x="450.25" y="325.9" width="2.4" height="10.20" fill="#f7a6ab"/><rect x="453.60" y="334.7" width="2.4" height="1.40" fill="#8fd0c5"/><path d="M7.50,80.10 C10.42,80.32 19.58,81.22 25.00,81.40 C30.42,81.58 35.50,81.30 40.00,81.20 C44.50,81.10 47.00,80.70 52.00,80.80 C57.00,80.90 61.67,80.95 70.00,81.80 C78.33,82.65 91.00,84.72 102.00,85.90 C113.00,87.08 126.33,88.00 136.00,88.90 C145.67,89.80 152.58,90.47 160.00,91.30 C167.42,92.13 170.33,92.92 180.50,93.90 C190.67,94.88 211.75,96.62 221.00,97.20 C230.25,97.78 231.17,97.23 236.00,97.40 C240.83,97.57 245.58,97.80 250.00,98.20 C254.42,98.60 255.83,99.05 262.50,99.80 C269.17,100.55 281.42,101.78 290.00,102.70 C298.58,103.62 305.67,103.95 314.00,105.30 C322.33,106.65 329.80,108.60 340.00,110.80 C350.20,113.00 363.87,115.95 375.20,118.50 C386.53,121.05 394.78,123.08 408.00,126.10 C421.22,129.12 446.75,134.85 454.50,136.60" fill="none" stroke="#000" stroke-width="1.6"/><line x1="8" y1="50.3" x2="391" y2="102.6" stroke="#000" stroke-width="1.4"/><line x1="400.6" y1="229.1" x2="451.5" y2="233.1" stroke="#f7a21b" stroke-width="1.2"/><defs><linearGradient id="og" gradientUnits="userSpaceOnUse" x1="0" y1="345" x2="0" y2="359.3"><stop offset="0" stop-color="#4caf50" stop-opacity="0.24"/><stop offset="1" stop-color="#4caf50" stop-opacity="0.03"/></linearGradient><clipPath id="ob"><rect x="0" y="0" width="1033" height="359.3"/></clipPath></defs><polygon points="8.72,359.3 8.72,367.2 12.07,367.5 15.43,369.8 18.78,368.9 22.13,369.6 25.49,363 28.84,356.9 32.20,355.1 35.55,353.4 38.90,351.2 42.26,346.5 45.61,347.5 48.97,347.7 52.32,383 55.67,386.8 59.03,380.4 62.38,382.2 65.74,380.4 69.09,392.5 72.44,395.9 72.44,359.3" fill="url(#og)" clip-path="url(#ob)"/><polyline points="8.72,367.2 12.07,367.5 15.43,369.8 18.78,368.9 22.13,369.6 25.49,363 28.84,356.9 32.20,355.1 35.55,353.4 38.90,351.2 42.26,346.5 45.61,347.5 48.97,347.7 52.32,383 55.67,386.8 59.03,380.4 62.38,382.2 65.74,380.4 69.09,392.5 72.44,395.9 75.80,400.2 79.15,405 82.51,408.8 85.86,411.4 89.21,404.5 92.57,398.9 95.92,404 99.28,399.4 102.63,390.8 105.98,385.1 109.34,379.2 112.69,381.3 116.05,390.8 119.40,382.7 122.75,378.2 126.11,392 129.46,391.3 132.82,390.2 136.17,391.6 139.52,396.8 142.88,402 146.23,395.4 149.59,396.8 152.94,383.4 156.29,385.1 159.65,389 163.00,400.2 166.36,393.7 169.71,394.2 173.06,391.6 176.42,397.6 179.77,395.4 183.13,396.8 186.48,398.2 189.83,392.5 193.19,392 196.54,397.3 199.90,393 203.25,394.7 206.60,389.9 209.96,383.9 213.31,383 216.67,380.4 220.02,377 223.37,366.7 226.73,362.4 230.08,374.4 233.44,386.8 236.79,385.1 240.14,380.4 243.50,383.9 246.85,390.8 250.21,390.8 253.56,395.1 256.91,402.8 260.27,403.3 263.62,402.8 266.98,409.7 270.33,404 273.68,405.4 277.04,400.2 280.39,401.1 283.75,403.7 287.10,390.2 290.45,386.1 293.81,385.6 297.16,391.3 300.52,389 303.87,381.6 307.22,394.7 310.58,392.5 313.93,396.8 317.29,422.6 320.64,419.2 323.99,406.3 327.35,400.2 330.70,404.5 334.06,408 337.41,410.6 340.76,413.1 344.12,410.6 347.47,407.7 350.83,405.1 354.18,406.3 357.53,409.7 360.89,404.6 364.24,401.1 367.60,401.6 370.95,394.8 374.30,397.7 377.66,401.1 381.01,400.6 384.37,407.1 387.72,400.3 391.07,396.5 394.43,397.2 397.78,410.6 401.14,416.6 404.49,409.7 407.84,410.6 411.20,391.3 414.55,391.7 417.91,391.3 421.26,389.1 424.61,396.8 427.97,399.9 431.32,402.8 434.68,406.8 438.03,406.3 441.38,408.5 444.74,412.7 448.09,405.8 451.45,410.2 454.80,406.8" fill="none" stroke="#7e57c2" stroke-width="1.1" stroke-linejoin="round"/><path d="M7.60,391.60 C8.60,391.03 11.45,389.40 13.60,388.20 C15.75,387.00 18.20,385.83 20.50,384.40 C22.80,382.97 25.10,381.32 27.40,379.60 C29.70,377.88 32.02,376.12 34.30,374.10 C36.58,372.08 39.10,369.37 41.10,367.50 C43.10,365.63 44.80,364.10 46.30,362.90 C47.80,361.70 48.95,360.62 50.10,360.30 C51.25,359.98 52.12,360.65 53.20,361.00 C54.28,361.35 54.73,361.73 56.60,362.40 C58.47,363.07 62.10,364.00 64.40,365.00 C66.70,366.00 68.53,367.12 70.40,368.40 C72.27,369.68 73.88,370.98 75.60,372.70 C77.32,374.42 78.98,376.70 80.70,378.70 C82.42,380.70 84.18,382.68 85.90,384.70 C87.62,386.72 89.75,389.37 91.00,390.80 C92.25,392.23 92.42,392.45 93.40,393.30 C94.38,394.15 95.17,395.32 96.90,395.90 C98.63,396.48 100.65,396.72 103.80,396.80 C106.95,396.88 112.37,396.98 115.80,396.40 C119.23,395.82 121.53,394.23 124.40,393.30 C127.27,392.37 130.13,391.45 133.00,390.80 C135.87,390.15 139.02,389.63 141.60,389.40 C144.18,389.17 146.20,389.32 148.50,389.40 C150.80,389.48 153.10,389.62 155.40,389.90 C157.70,390.18 159.72,390.67 162.30,391.10 C164.88,391.53 167.95,392.13 170.90,392.50 C173.85,392.87 177.60,392.93 180.00,393.30 C182.40,393.67 182.68,394.83 185.30,394.70 C187.92,394.57 192.40,392.43 195.70,392.50 C199.00,392.57 201.95,395.25 205.10,395.10 C208.25,394.95 211.58,392.75 214.60,391.60 C217.62,390.45 220.33,389.40 223.20,388.20 C226.07,387.00 228.93,385.50 231.80,384.40 C234.67,383.30 237.25,382.17 240.40,381.60 C243.55,381.03 247.83,380.77 250.70,381.00 C253.57,381.23 254.90,381.80 257.60,383.00 C260.30,384.20 264.20,386.48 266.90,388.20 C269.60,389.92 271.50,391.87 273.80,393.30 C276.10,394.73 278.42,395.93 280.70,396.80 C282.98,397.67 284.35,398.22 287.50,398.50 C290.65,398.78 296.73,398.78 299.60,398.50 C302.47,398.22 302.70,397.43 304.70,396.80 C306.70,396.17 309.30,394.85 311.60,394.70 C313.90,394.55 316.20,395.55 318.50,395.90 C320.80,396.25 323.38,396.65 325.40,396.80 C327.42,396.95 328.88,396.37 330.60,396.80 C332.32,397.23 333.70,398.32 335.70,399.40 C337.70,400.48 340.18,402.15 342.60,403.30 C345.02,404.45 347.80,405.37 350.20,406.30 C352.60,407.23 355.00,408.77 357.00,408.90 C359.00,409.03 359.90,407.73 362.20,407.10 C364.50,406.47 367.93,405.52 370.80,405.10 C373.67,404.68 376.23,404.98 379.40,404.60 C382.57,404.22 386.92,403.18 389.80,402.80 C392.68,402.42 394.12,402.30 396.70,402.30 C399.28,402.30 402.43,402.85 405.30,402.80 C408.17,402.75 411.03,402.37 413.90,402.00 C416.77,401.63 419.63,400.88 422.50,400.60 C425.37,400.32 428.52,400.22 431.10,400.30 C433.68,400.38 436.00,400.77 438.00,401.10 C440.00,401.43 441.38,402.23 443.10,402.30 C444.82,402.37 446.45,401.75 448.30,401.50 C450.15,401.25 453.22,400.92 454.20,400.80" fill="none" stroke="#f3d36b" stroke-width="1.1"/><line x1="400.4" y1="417.5" x2="451.4" y2="412.3" stroke="#f39a22" stroke-width="1.8"/><text transform="translate(970.7 48.6) scale(0.953 1)" x="0" y="0" font-size="8.8" fill="#131722" stroke="#131722" stroke-width="0.22">0.00001600</text><text transform="translate(970.7 72.7) scale(0.953 1)" x="0" y="0" font-size="8.8" fill="#131722" stroke="#131722" stroke-width="0.22">0.00001500</text><text transform="translate(970.7 96.9) scale(0.953 1)" x="0" y="0" font-size="8.8" fill="#131722" stroke="#131722" stroke-width="0.22">0.00001400</text><text transform="translate(970.7 121.0) scale(0.953 1)" x="0" y="0" font-size="8.8" fill="#131722" stroke="#131722" stroke-width="0.22">0.00001300</text><text transform="translate(970.7 145.1) scale(0.953 1)" x="0" y="0" font-size="8.8" fill="#131722" stroke="#131722" stroke-width="0.22">0.00001200</text><text transform="translate(970.7 169.2) scale(0.953 1)" x="0" y="0" font-size="8.8" fill="#131722" stroke="#131722" stroke-width="0.22">0.00001100</text><text transform="translate(970.7 193.4) scale(0.953 1)" x="0" y="0" font-size="8.8" fill="#131722" stroke="#131722" stroke-width="0.22">0.00001000</text><text transform="translate(970.7 217.5) scale(0.953 1)" x="0" y="0" font-size="8.8" fill="#131722" stroke="#131722" stroke-width="0.22">0.00000900</text><text transform="translate(970.7 241.6) scale(0.953 1)" x="0" y="0" font-size="8.8" fill="#131722" stroke="#131722" stroke-width="0.22">0.00000800</text><text transform="translate(970.7 265.8) scale(0.953 1)" x="0" y="0" font-size="8.8" fill="#131722" stroke="#131722" stroke-width="0.22">0.00000700</text><text transform="translate(970.7 289.9) scale(0.953 1)" x="0" y="0" font-size="8.8" fill="#131722" stroke="#131722" stroke-width="0.22">0.00000600</text><rect x="967.4" y="22.1" width="56.2" height="18.3" rx="2.8" fill="#fff" stroke="#eceef2" stroke-width="0.8"/><text x="973.9" y="33.8" font-size="8.7" fill="#131722" stroke="#131722" stroke-width="0.22" textLength="19.0" lengthAdjust="spacingAndGlyphs">USDT</text><rect x="965" y="131" width="54" height="11.4" fill="#000000"/><text transform="translate(970.7 139.8) scale(0.953 1)" x="0" y="0" font-size="8.8" fill="#fff" stroke="#fff" stroke-width="0.22">0.00001223</text><rect x="965" y="147.9" width="54" height="11.5" fill="#9c27b0"/><text transform="translate(970.7 156.8) scale(0.953 1)" x="0" y="0" font-size="8.8" fill="#fff" stroke="#fff" stroke-width="0.22">0.00001151</text><rect x="965" y="168.6" width="54" height="11.4" fill="#f23645"/><text transform="translate(970.7 177.4) scale(0.953 1)" x="0" y="0" font-size="8.8" fill="#fff" stroke="#fff" stroke-width="0.22">0.00001066</text><rect x="965" y="216.1" width="54" height="21.9" fill="#089981"/><text transform="translate(970.7 225.7) scale(0.953 1)" x="0" y="0" font-size="8.8" fill="#fff" stroke="#fff" stroke-width="0.22">0.00000869</text><text transform="translate(970.7 235.8) scale(0.953 1)" x="0" y="0" font-size="8.8" fill="#fff" stroke="#fff" stroke-width="0.22">19:00:29</text><defs><clipPath id="vp"><rect x="960" y="290.8" width="70" height="50"/></clipPath></defs><g clip-path="url(#vp)"><text transform="translate(970.7 295.8) scale(0.953 1)" x="0" y="0" font-size="8.8" fill="#131722" stroke="#131722" stroke-width="0.22">8T</text></g><text transform="translate(970.7 317.2) scale(0.953 1)" x="0" y="0" font-size="8.8" fill="#131722" stroke="#131722" stroke-width="0.22">4T</text><rect x="965.2" y="324.4" width="41.1" height="11.6" fill="#1fa08d"/><text x="972" y="333.2" font-size="8.8" fill="#fff" stroke="#fff" stroke-width="0.22" textLength="31.3" lengthAdjust="spacingAndGlyphs">194.72 B</text><text transform="translate(970.7 347.8) scale(0.953 1)" x="0" y="0" font-size="8.8" fill="#131722" stroke="#131722" stroke-width="0.22">80.00</text><text transform="translate(970.7 377.6) scale(0.953 1)" x="0" y="0" font-size="8.8" fill="#131722" stroke="#131722" stroke-width="0.22">60.00</text><rect x="965" y="389.6" width="30.700000000000045" height="11.5" fill="#fad232"/><text transform="translate(970.7 398.5) scale(0.953 1)" x="0" y="0" font-size="8.8" fill="#131722" stroke="#131722" stroke-width="0.22">41.61</text><rect x="965" y="401.1" width="30.700000000000045" height="11.7" fill="#7e57c2"/><text transform="translate(970.7 410.1) scale(0.953 1)" x="0" y="0" font-size="8.8" fill="#fff" stroke="#fff" stroke-width="0.22">37.97</text><text transform="translate(82.3 444.6) scale(0.93 1)" x="0" y="0" font-size="8.4" fill="#131722" stroke="#131722" stroke-width="0.22" text-anchor="middle">Aug</text><text transform="translate(186.6 444.6) scale(0.93 1)" x="0" y="0" font-size="8.4" fill="#131722" stroke="#131722" stroke-width="0.22" text-anchor="middle">Sep</text><text transform="translate(287.2 444.6) scale(0.93 1)" x="0" y="0" font-size="8.4" fill="#131722" stroke="#131722" stroke-width="0.22" text-anchor="middle">Oct</text><text transform="translate(390.9 444.6) scale(0.93 1)" x="0" y="0" font-size="8.4" fill="#131722" stroke="#131722" stroke-width="0.22" text-anchor="middle">Nov</text><text transform="translate(491.5 444.6) scale(0.93 1)" x="0" y="0" font-size="8.4" fill="#131722" stroke="#131722" stroke-width="0.22" text-anchor="middle">Dec</text><text transform="translate(595.4 444.6) scale(1.0 1)" x="0" y="0" font-size="8.4" fill="#131722" font-weight="bold" stroke="#131722" stroke-width="0.22" text-anchor="middle">2026</text><text transform="translate(699.6 444.6) scale(0.93 1)" x="0" y="0" font-size="8.4" fill="#131722" stroke="#131722" stroke-width="0.22" text-anchor="middle">Feb</text><text transform="translate(793.6 444.6) scale(0.93 1)" x="0" y="0" font-size="8.4" fill="#131722" stroke="#131722" stroke-width="0.22" text-anchor="middle">Mar</text><text transform="translate(897.0 444.6) scale(0.93 1)" x="0" y="0" font-size="8.4" fill="#131722" stroke="#131722" stroke-width="0.22" text-anchor="middle">Apr</text><text x="12.9" y="33.5" font-size="8.4" fill="#131722" stroke="#131722" stroke-width="0.22" textLength="116.5" lengthAdjust="spacingAndGlyphs">SHIB / TetherUS - 1D - Binance</text><text x="135.1" y="33.5" font-size="8.4" fill="#131722" stroke="#131722" stroke-width="0.22" textLength="5.9" lengthAdjust="spacingAndGlyphs">O</text><text x="141.2" y="33.5" font-size="8.4" fill="#089981" stroke="#089981" stroke-width="0.22" textLength="42.8" lengthAdjust="spacingAndGlyphs">0.00000856</text><text x="189.9" y="33.5" font-size="8.4" fill="#131722" stroke="#131722" stroke-width="0.22" textLength="5.6" lengthAdjust="spacingAndGlyphs">H</text><text x="195.7" y="33.5" font-size="8.4" fill="#089981" stroke="#089981" stroke-width="0.22" textLength="42.4" lengthAdjust="spacingAndGlyphs">0.00000869</text><text x="244.5" y="33.5" font-size="8.4" fill="#131722" stroke="#131722" stroke-width="0.22" textLength="3.8" lengthAdjust="spacingAndGlyphs">L</text><text x="248.5" y="33.5" font-size="8.4" fill="#089981" stroke="#089981" stroke-width="0.22" textLength="42.4" lengthAdjust="spacingAndGlyphs">0.00000852</text><text x="296.7" y="33.5" font-size="8.4" fill="#131722" stroke="#131722" stroke-width="0.22" textLength="5.4" lengthAdjust="spacingAndGlyphs">C</text><text x="302.3" y="33.5" font-size="8.4" fill="#089981" stroke="#089981" stroke-width="0.22" textLength="42.9" lengthAdjust="spacingAndGlyphs">0.00000869</text><text x="351" y="33.5" font-size="8.4" fill="#089981" stroke="#089981" stroke-width="0.22" textLength="82.0" lengthAdjust="spacingAndGlyphs">+0.00000013 (+1.52%)</text><g fill="#0b0b0f"><path d="M9 467 h8 v10.5 h-4 v-6.8 h-4 z"/><circle cx="20.7" cy="469.0" r="1.85"/><path d="M24.2 467 h5.6 l-3.6 10.5 h-5.1 z"/></g><text x="35.5" y="477.4" font-size="14" fill="#0b0b0f" font-weight="bold" stroke="#0b0b0f" stroke-width="0.22" textLength="85.1" lengthAdjust="spacingAndGlyphs">TradingView</text></svg>
</body></html>
